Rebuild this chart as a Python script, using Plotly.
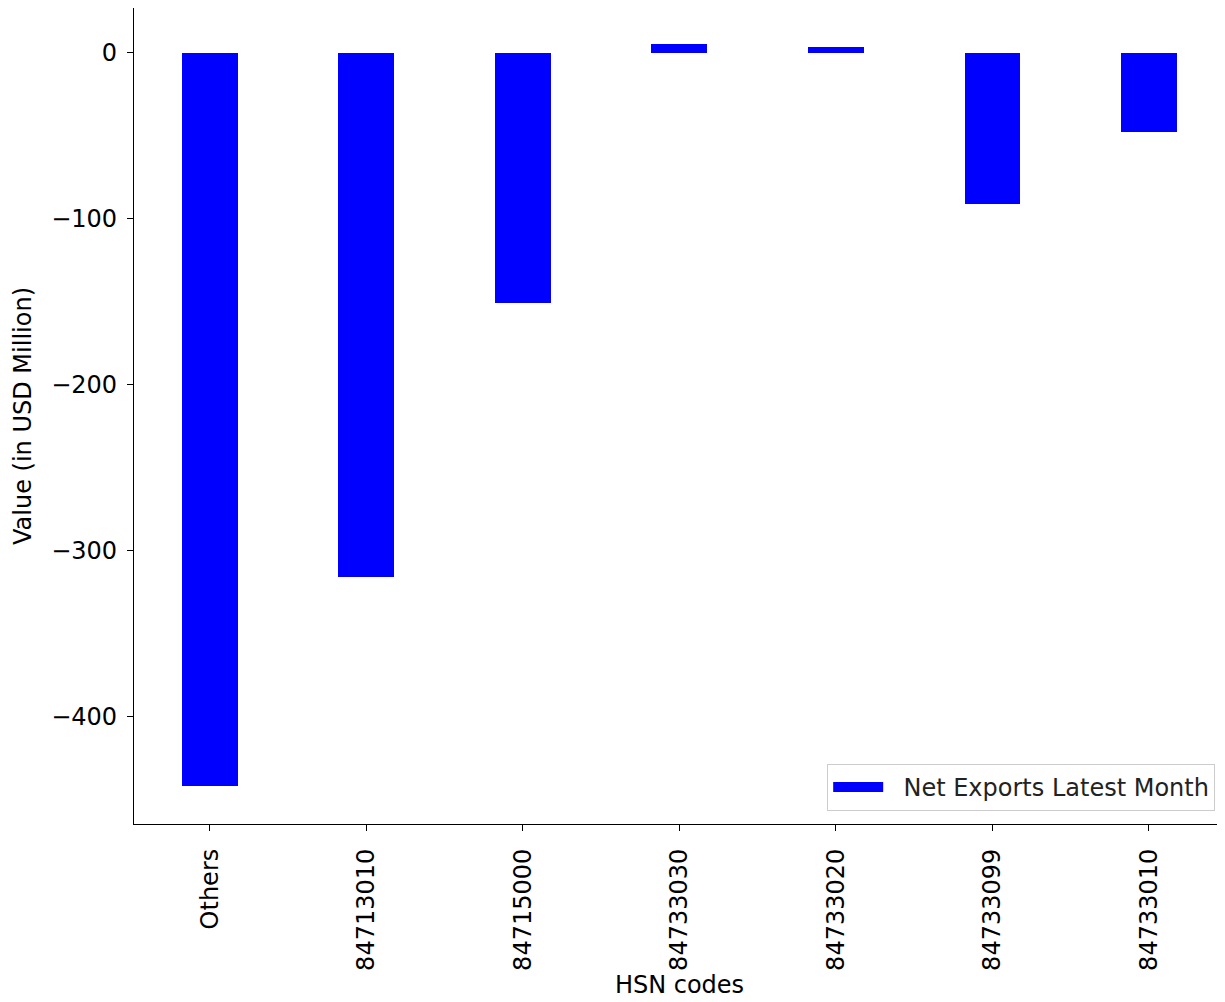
import plotly.graph_objects as go

categories = ["Others", "84713010", "84715000", "84733030", "84733020", "84733099", "84733010"]
net_exports = [-441.5, -315.5, -150.5, 5.5, 3.5, -91.0, -47.5]
y_ticks = [0, -100, -200, -300, -400]
y_tick_labels = ["0", "−100", "−200", "−300", "−400"]
series_name = "Net Exports Latest Month"

FONT = "DejaVu Sans"
FS = 24

fig = go.Figure()
fig.add_trace(go.Bar(
    x=list(range(len(categories))),
    y=net_exports,
    width=0.355,
    marker=dict(color="#0000ff", line=dict(width=0)),
    name=series_name,
    showlegend=False,
))
# legend entry drawn as a wide patch
fig.add_trace(go.Scatter(
    x=[None], y=[None], mode="lines",
    line=dict(color="#0000ff", width=17),
    name="\u00a0\u00a0" + series_name, showlegend=True,
))

fig.update_layout(
    width=1217, height=994,
    margin=dict(l=126, r=0, t=0, b=178, pad=0),
    paper_bgcolor="white", plot_bgcolor="white",
    font=dict(family=FONT, size=FS, color="black"),
    showlegend=True,
    legend=dict(
        x=0.991, y=0.016, xanchor="right", yanchor="bottom",
        bordercolor="#cccccc", borderwidth=1, bgcolor="white",
        font=dict(family=FONT, size=FS, color="#222222"),
        itemwidth=50,
    ),
    xaxis=dict(
        range=[-0.484, 6.487],
        tickmode="array",
        tickvals=list(range(len(categories))),
        ticktext=categories,
        tickangle=-90,
        ticks="outside", ticklen=6, tickwidth=1.3, tickcolor="black",
        ticklabelstandoff=8,
        showline=True, linecolor="black", linewidth=1.3, mirror=True,
        showgrid=False, zeroline=False,
        tickfont=dict(family=FONT, size=FS),
        title=dict(text="HSN codes", font=dict(family=FONT, size=FS), standoff=4),
    ),
    yaxis=dict(
        range=[-464.5, 27.1],
        tickmode="array",
        tickvals=y_ticks,
        ticktext=y_tick_labels,
        ticks="outside", ticklen=6, tickwidth=1.3, tickcolor="black",
        ticklabelstandoff=5,
        showline=True, linecolor="black", linewidth=1.3, mirror=False,
        showgrid=False, zeroline=False,
        tickfont=dict(family=FONT, size=FS),
        title=dict(text="Value (in USD Million)", font=dict(family=FONT, size=FS), standoff=12),
    ),
    bargap=0,
)

fig.write_html("out.html")
